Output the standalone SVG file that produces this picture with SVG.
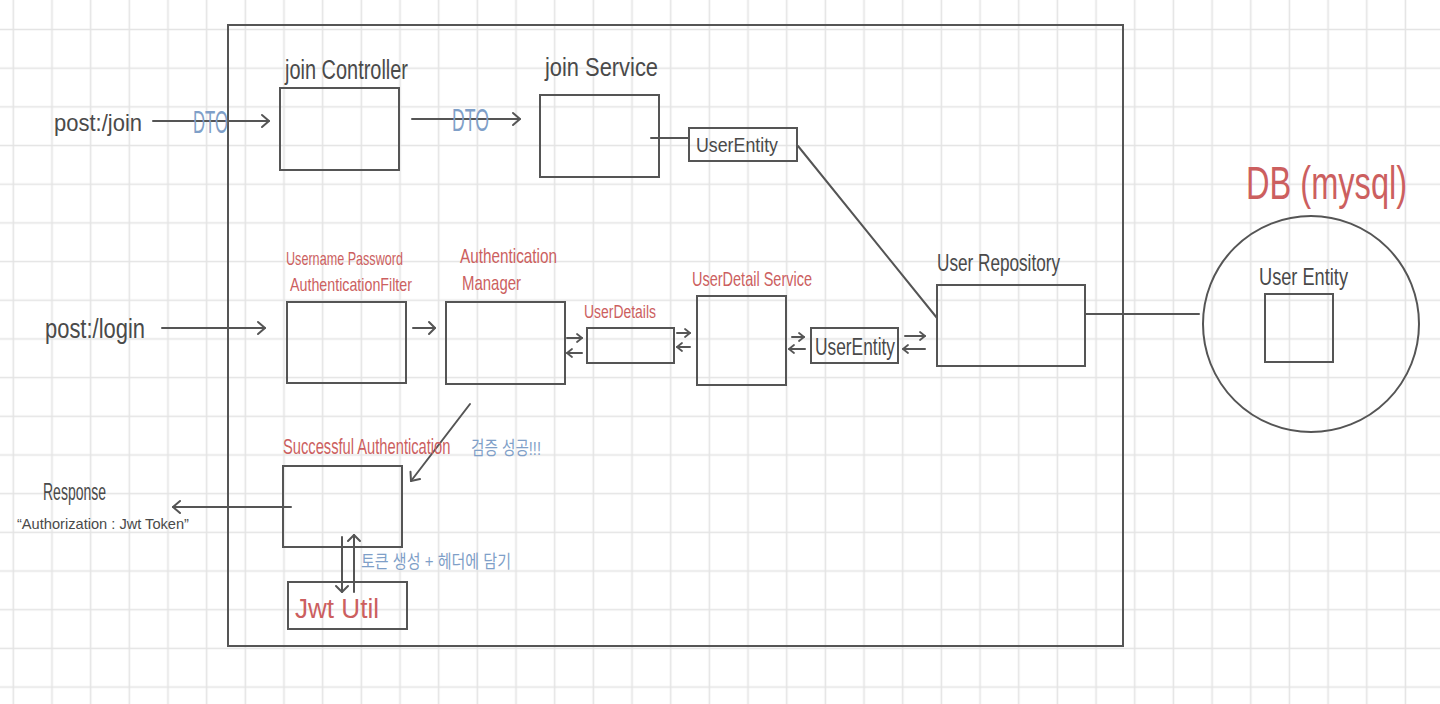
<svg xmlns="http://www.w3.org/2000/svg" width="1440" height="704" viewBox="0 0 1440 704">
<style>
.box{fill:none;stroke:#555;stroke-width:2}
.ln{fill:none;stroke:#555;stroke-width:2;stroke-linecap:round}
.t{font-family:"Liberation Sans","Noto Sans CJK KR",sans-serif;fill:#4a4a4a}
.r{fill:#cc5f5f}
.b{fill:#7f9fc8}
</style>
<defs>
<pattern id="grid" x="-6.03" y="10.16" width="38.67" height="38.68" patternUnits="userSpaceOnUse">
<path d="M19.33,0 V38.68 M0,19.34 H38.67" fill="none" stroke="#e4e4e4" stroke-width="1.6"/>
</pattern>
<marker id="ah" viewBox="-10 -8 12 16" markerWidth="12" markerHeight="16" refX="0" refY="0" orient="auto" markerUnits="userSpaceOnUse">
<path d="M-7,-6 L0,0 L-7,6" fill="none" stroke="#555" stroke-width="2" stroke-linecap="round" stroke-linejoin="round"/>
</marker>
<marker id="am" viewBox="-10 -8 12 16" markerWidth="12" markerHeight="16" refX="0" refY="0" orient="auto" markerUnits="userSpaceOnUse">
<path d="M-6,-6 L0,0 L-6,6" fill="none" stroke="#555" stroke-width="2" stroke-linecap="round" stroke-linejoin="round"/>
</marker>
<marker id="as" viewBox="-8 -6 10 12" markerWidth="10" markerHeight="12" refX="0" refY="0" orient="auto" markerUnits="userSpaceOnUse">
<path d="M-5,-4 L0,0 L-5,4" fill="none" stroke="#555" stroke-width="1.8" stroke-linecap="round" stroke-linejoin="round"/>
</marker>
</defs>
<rect width="1440" height="704" fill="#fff"/>
<rect width="1440" height="704" fill="url(#grid)"/>

<g id="frame"><rect class="box" x="228" y="25" width="895" height="621"/></g>

<g id="connectors">
<line class="ln" x1="153" y1="121" x2="269" y2="121" marker-end="url(#ah)"/>
<line class="ln" x1="412" y1="119" x2="520" y2="119" marker-end="url(#ah)"/>
<line class="ln" x1="651" y1="138" x2="689" y2="138"/>
<line class="ln" x1="798" y1="146" x2="937" y2="318"/>
<line class="ln" x1="162" y1="328" x2="265" y2="328" marker-end="url(#ah)"/>
<line class="ln" x1="413" y1="328" x2="435" y2="328" marker-end="url(#am)"/>
<line class="ln" x1="567" y1="338" x2="582" y2="338" marker-end="url(#as)"/>
<line class="ln" x1="582" y1="353" x2="567" y2="353" marker-end="url(#as)"/>
<line class="ln" x1="677" y1="333" x2="690" y2="333" marker-end="url(#as)"/>
<line class="ln" x1="690" y1="347" x2="677" y2="347" marker-end="url(#as)"/>
<line class="ln" x1="792" y1="337" x2="804" y2="337" marker-end="url(#as)"/>
<line class="ln" x1="805" y1="349" x2="789" y2="349" marker-end="url(#as)"/>
<line class="ln" x1="905" y1="336" x2="925" y2="336" marker-end="url(#as)"/>
<line class="ln" x1="925" y1="349" x2="903" y2="349" marker-end="url(#as)"/>
<line class="ln" x1="1086" y1="314" x2="1199" y2="314"/>
<line class="ln" x1="470" y1="404" x2="411" y2="481" marker-end="url(#ah)"/>
<line class="ln" x1="291" y1="507" x2="173" y2="507" marker-end="url(#ah)"/>
<line class="ln" x1="342" y1="537" x2="342" y2="592" marker-end="url(#am)"/>
<line class="ln" x1="354" y1="592" x2="354" y2="535" marker-end="url(#am)"/>
</g>

<g id="post-join"><text class="t" x="54" y="131" font-size="24" textLength="88" lengthAdjust="spacingAndGlyphs">post:/join</text></g>
<g id="dto1"><text class="t b" x="193" y="133" font-size="32" textLength="35" lengthAdjust="spacingAndGlyphs">DTO</text></g>
<g id="dto2"><text class="t b" x="452" y="131" font-size="32" textLength="37" lengthAdjust="spacingAndGlyphs">DTO</text></g>

<g id="join-controller">
<rect class="box" x="280" y="88" width="119" height="82"/>
<text class="t" x="285" y="79" font-size="27" textLength="123" lengthAdjust="spacingAndGlyphs">join Controller</text>
</g>
<g id="join-service">
<rect class="box" x="540" y="95" width="119" height="82"/>
<text class="t" x="545" y="76" font-size="26" textLength="113" lengthAdjust="spacingAndGlyphs">join Service</text>
</g>
<g id="user-entity-1">
<rect class="box" x="689" y="128" width="108" height="33"/>
<text class="t" x="696" y="152" font-size="20" textLength="82" lengthAdjust="spacingAndGlyphs">UserEntity</text>
</g>

<g id="post-login"><text class="t" x="45" y="338" font-size="27" textLength="100" lengthAdjust="spacingAndGlyphs">post:/login</text></g>

<g id="filter">
<rect class="box" x="287" y="302" width="119" height="81"/>
<text class="t r" x="286" y="265" font-size="19" textLength="117" lengthAdjust="spacingAndGlyphs">Username Password</text>
<text class="t r" x="290" y="291" font-size="19" textLength="122" lengthAdjust="spacingAndGlyphs">AuthenticationFilter</text>
</g>
<g id="auth-manager">
<rect class="box" x="446" y="302" width="119" height="82"/>
<text class="t r" x="460" y="263" font-size="21" textLength="97" lengthAdjust="spacingAndGlyphs">Authentication</text>
<text class="t r" x="462" y="290" font-size="21" textLength="59" lengthAdjust="spacingAndGlyphs">Manager</text>
</g>
<g id="user-details">
<rect class="box" x="587" y="328" width="87" height="35"/>
<text class="t r" x="584" y="318" font-size="18" textLength="72" lengthAdjust="spacingAndGlyphs">UserDetails</text>
</g>
<g id="user-detail-service">
<rect class="box" x="697" y="296" width="89" height="89"/>
<text class="t r" x="692" y="286" font-size="21" textLength="120" lengthAdjust="spacingAndGlyphs">UserDetail Service</text>
</g>
<g id="user-entity-2">
<rect class="box" x="811" y="328" width="87" height="35"/>
<text class="t" x="815" y="355" font-size="23" textLength="80" lengthAdjust="spacingAndGlyphs">UserEntity</text>
</g>
<g id="user-repository">
<rect class="box" x="937" y="285" width="148" height="81"/>
<text class="t" x="937" y="271" font-size="24" textLength="123" lengthAdjust="spacingAndGlyphs">User Repository</text>
</g>
<g id="db">
<text class="t r" transform="translate(1246,199) scale(1,1.41)" x="0" y="0" font-size="32.6">DB (mysql)</text>
<circle class="box" cx="1311" cy="324" r="108"/>
<rect class="box" x="1265" y="294" width="68" height="68"/>
<text class="t" x="1259" y="285" font-size="24" textLength="89" lengthAdjust="spacingAndGlyphs">User Entity</text>
</g>

<g id="successful-authentication">
<rect class="box" x="283" y="466" width="119" height="81"/>
<text class="t r" transform="translate(283,454) scale(1,1.56)" x="0" y="0" font-size="14.7">Successful Authentication</text>
</g>
<g id="verify-label"><text class="t b" x="471" y="455" font-size="19" textLength="70" lengthAdjust="spacingAndGlyphs">검증 성공!!!</text></g>
<g id="response">
<text class="t" x="43" y="500" font-size="23" textLength="63" lengthAdjust="spacingAndGlyphs">Response</text>
<text class="t" x="17" y="529" font-size="15" textLength="172" lengthAdjust="spacingAndGlyphs">“Authorization : Jwt Token”</text>
</g>
<g id="token-label"><text class="t b" x="361" y="568" font-size="18" textLength="150" lengthAdjust="spacingAndGlyphs">토큰 생성 + 헤더에 담기</text></g>
<g id="jwt-util">
<rect class="box" x="288" y="582" width="119" height="47"/>
<text class="t r" x="295" y="618" font-size="27" textLength="84" lengthAdjust="spacingAndGlyphs">Jwt Util</text>
</g>
</svg>
